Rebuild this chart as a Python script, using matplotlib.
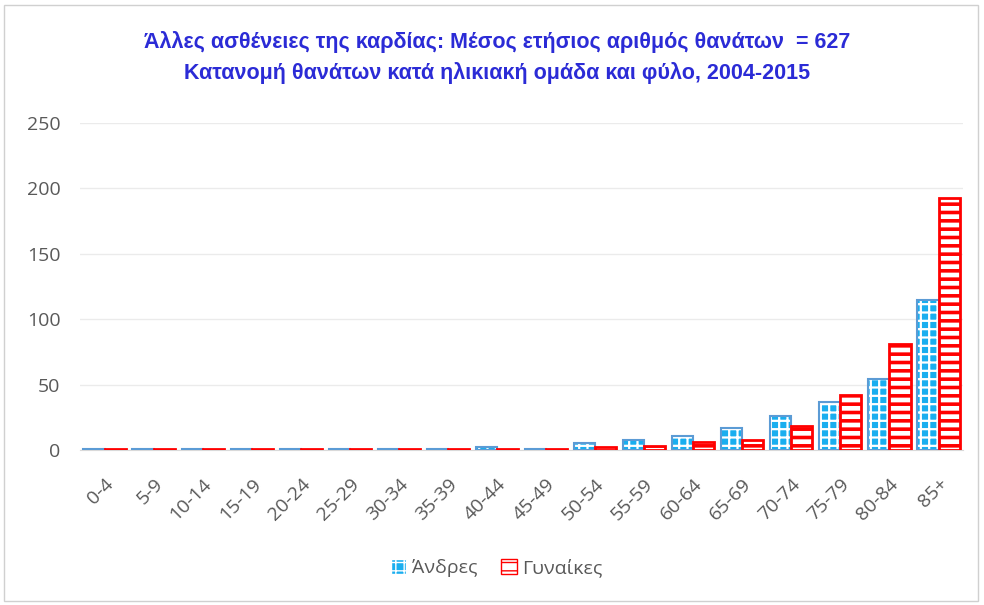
import matplotlib as mpl
import matplotlib.pyplot as plt
import numpy as np
from matplotlib.patches import Rectangle, Patch

ages = ['0-4', '5-9', '10-14', '15-19', '20-24', '25-29', '30-34', '35-39', '40-44',
        '45-49', '50-54', '55-59', '60-64', '65-69', '70-74', '75-79', '80-84', '85+']
men = [1, 1, 1, 1, 1, 1, 1, 1, 2, 1, 5, 8, 11, 17, 26, 37, 54, 115]
women = [1, 1, 1, 1, 1, 1, 1, 1, 1, 1, 2, 3, 6, 8, 18, 42, 81, 193]

title = ('Άλλες ασθένειες της καρδίας: Μέσος ετήσιος αριθμός θανάτων  = 627\n'
         'Κατανομή θανάτων κατά ηλικιακή ομάδα και φύλο, 2004-2015')

plt.rcParams['font.family'] = ['Open Sans', 'DejaVu Sans']

fig = plt.figure(figsize=(9.84, 6.05), dpi=100)
ax = fig.add_axes([0.0813, 0.2562, 0.8974, 0.5405])

x = np.arange(len(ages))
w = 0.43
blue_face = '#1AAEEF'
blue_edge = '#5B9BD5'
red = '#FF0000'

# men: blue checker-like pattern
with mpl.rc_context({'hatch.linewidth': 1.6}):
    ax.bar(x - w / 2, men, w, color=blue_face, edgecolor='white', hatch='++', linewidth=0, zorder=2)
    blue_handle = Patch(facecolor=blue_face, edgecolor='white', hatch='++')
ax.bar(x - w / 2, men, w, fill=False, edgecolor=blue_edge, linewidth=1.5, zorder=3)
# women: red horizontal stripes
with mpl.rc_context({'hatch.linewidth': 2.6}):
    ax.bar(x + w / 2, women, w, color='white', edgecolor=red, hatch='--', linewidth=0, zorder=2)
    red_handle = Patch(facecolor='white', edgecolor=red, hatch='--')
ax.bar(x + w / 2, women, w, fill=False, edgecolor=red, linewidth=2, zorder=3)

ax.set_xlim(-0.5, len(ages) - 0.5)
ax.set_ylim(0, 250)
ax.set_yticks(range(0, 251, 50))
ax.grid(axis='y', color='#EBEBEB', linewidth=1)
ax.set_axisbelow(True)
for s in ['top', 'right', 'left']:
    ax.spines[s].set_visible(False)
ax.spines['bottom'].set_color('#D9D9D9')
ax.tick_params(axis='y', length=0, colors='#595959', labelsize=14, pad=14)
ax.tick_params(axis='x', length=0, colors='#595959', labelsize=14, pad=18)
ax.set_xticks(x)
ax.set_xticklabels(ages, rotation=45, ha='right', rotation_mode='anchor')

fig.text(0.505, 0.905, title, ha='center', va='center', fontsize=15.5,
         fontweight='bold', color='#2B2BD6', linespacing=1.55,
         family=['Liberation Sans Narrow', 'Liberation Sans', 'DejaVu Sans'])

blue_handle.set_label('Άνδρες')
red_handle.set_label('Γυναίκες')
fig.legend(handles=[blue_handle, red_handle], loc='center', bbox_to_anchor=(0.505, 0.062),
           ncol=2, frameon=False, fontsize=14, handlelength=0.8, handleheight=0.8,
           handletextpad=0.3, columnspacing=1.2, labelcolor='#595959')

fig.patches.append(Rectangle((0.004, 0.006), 0.99, 0.986, transform=fig.transFigure,
                             fill=False, edgecolor='#D0D0D0', linewidth=1))

fig.savefig('out.png', dpi=100)
